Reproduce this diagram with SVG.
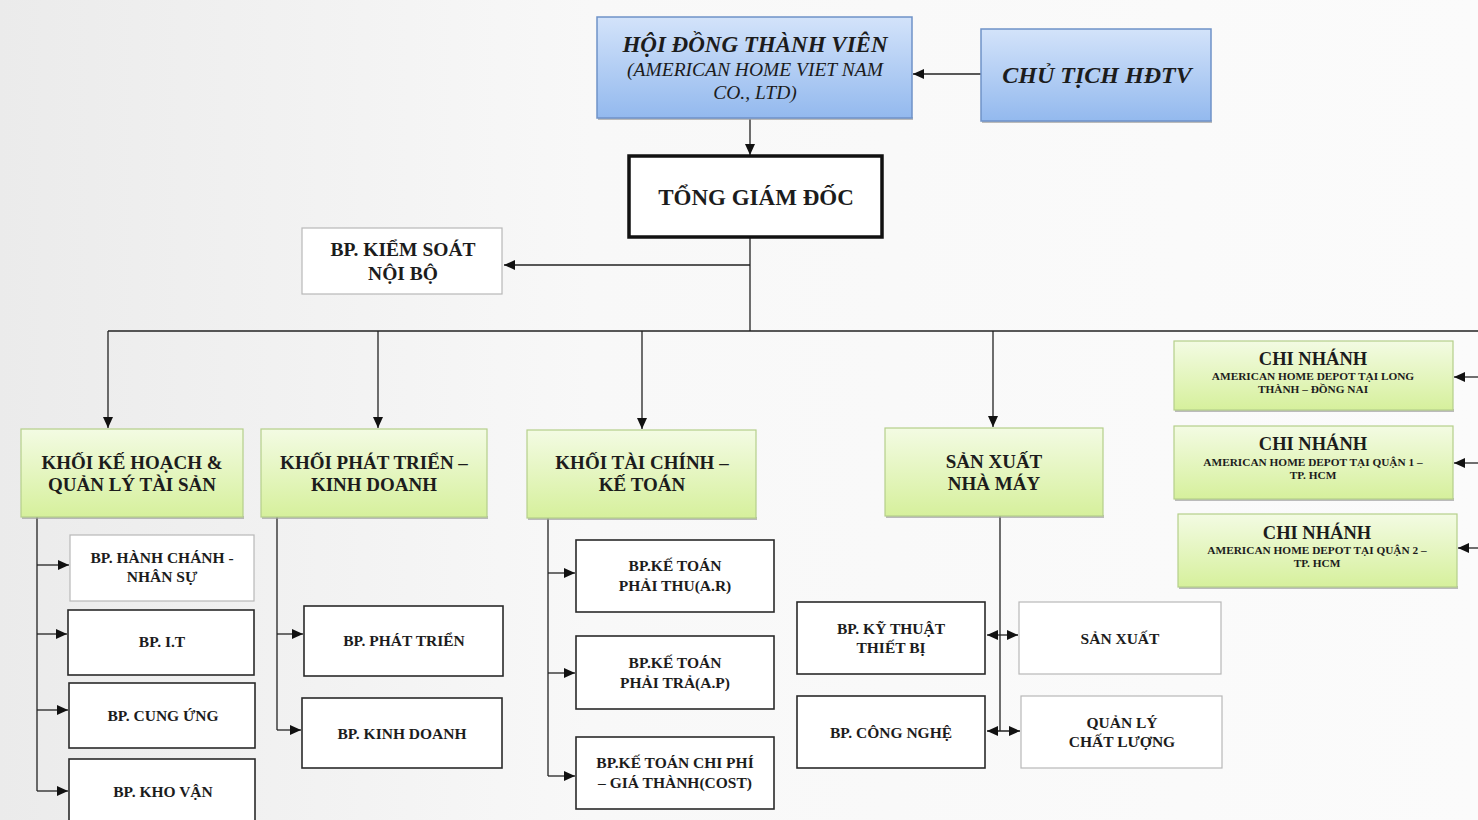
<svg xmlns="http://www.w3.org/2000/svg" width="1478" height="820" viewBox="0 0 1478 820">
<style>
.t{font-family:"Liberation Serif","Times New Roman",serif;font-weight:bold;fill:#1c1c1c;text-anchor:middle}
.it{font-style:italic}
.reg{font-weight:normal}
.c{stroke:#222;stroke-width:1.3;fill:none}
.dark{fill:#fff;stroke:#2a2a2a;stroke-width:1.6}
.light{fill:#fff;stroke:#b8b8b8;stroke-width:1.2}
.green{fill:url(#gg);stroke:#b5cf8a;stroke-width:1.2}
.blue{fill:url(#bg);stroke:#6f92c8;stroke-width:1.5}
.sh{fill:#a0a0a0;opacity:0.7}
</style>
<defs>
<linearGradient id="bgr" x1="0" y1="0" x2="1" y2="0">
<stop offset="0" stop-color="#ebebeb"/>
<stop offset="0.4" stop-color="#f8f8f8"/>
<stop offset="1" stop-color="#fbfbfb"/>
</linearGradient>
<linearGradient id="gg" x1="0" y1="0" x2="0" y2="1">
<stop offset="0" stop-color="#f3fbe3"/>
<stop offset="1" stop-color="#d6f09c"/>
</linearGradient>
<linearGradient id="bg" x1="0" y1="0" x2="0" y2="1">
<stop offset="0" stop-color="#d3e3fa"/>
<stop offset="1" stop-color="#93b9ee"/>
</linearGradient>
<marker id="arr" markerUnits="userSpaceOnUse" markerWidth="11" markerHeight="10" refX="11" refY="5" orient="auto-start-reverse">
<path d="M0,0 L11,5 L0,10 z" fill="#111"/>
</marker>
</defs>
<rect x="0" y="0" width="1478" height="820" fill="url(#bgr)"/>

<g id="connectors">
<line class="c" x1="981" y1="74" x2="913" y2="74" marker-end="url(#arr)"/>
<line class="c" x1="750" y1="119" x2="750" y2="155" marker-end="url(#arr)"/>
<line class="c" x1="750" y1="238" x2="750" y2="331"/>
<line class="c" x1="750" y1="265" x2="504" y2="265" marker-end="url(#arr)"/>
<line class="c" x1="108" y1="331" x2="1478" y2="331"/>
<line class="c" x1="108" y1="331" x2="108" y2="428" marker-end="url(#arr)"/>
<line class="c" x1="378" y1="331" x2="378" y2="428" marker-end="url(#arr)"/>
<line class="c" x1="642" y1="331" x2="642" y2="429" marker-end="url(#arr)"/>
<line class="c" x1="993" y1="331" x2="993" y2="427" marker-end="url(#arr)"/>
<line class="c" x1="1478" y1="377" x2="1454" y2="377" marker-end="url(#arr)"/>
<line class="c" x1="1478" y1="463" x2="1454" y2="463" marker-end="url(#arr)"/>
<line class="c" x1="1478" y1="548" x2="1458" y2="548" marker-end="url(#arr)"/>
<line class="c" x1="37" y1="517" x2="37" y2="791"/>
<line class="c" x1="37" y1="565" x2="69" y2="565" marker-end="url(#arr)"/>
<line class="c" x1="37" y1="634" x2="67" y2="634" marker-end="url(#arr)"/>
<line class="c" x1="37" y1="710" x2="68" y2="710" marker-end="url(#arr)"/>
<line class="c" x1="37" y1="791" x2="68" y2="791" marker-end="url(#arr)"/>
<line class="c" x1="277" y1="517" x2="277" y2="730"/>
<line class="c" x1="277" y1="634" x2="303" y2="634" marker-end="url(#arr)"/>
<line class="c" x1="277" y1="730" x2="301" y2="730" marker-end="url(#arr)"/>
<line class="c" x1="548" y1="518" x2="548" y2="776"/>
<line class="c" x1="548" y1="573" x2="575" y2="573" marker-end="url(#arr)"/>
<line class="c" x1="548" y1="673" x2="575" y2="673" marker-end="url(#arr)"/>
<line class="c" x1="548" y1="776" x2="575" y2="776" marker-end="url(#arr)"/>
<line class="c" x1="1000" y1="516" x2="1000" y2="731"/>
<line class="c" x1="987" y1="635" x2="1018" y2="635" marker-start="url(#arr)" marker-end="url(#arr)"/>
<line class="c" x1="987" y1="731" x2="1020" y2="731" marker-start="url(#arr)" marker-end="url(#arr)"/>
</g>

<g id="hdtv">
<rect class="sh" x="598" y="117" width="315" height="3"/>
<rect class="blue" x="597" y="17" width="315" height="101"/>
<text class="t it" x="755" y="52" font-size="23">HỘI ĐỒNG THÀNH VIÊN</text>
<text class="t it reg" x="755" y="76" font-size="19.5">(AMERICAN HOME VIET NAM</text>
<text class="t it reg" x="755" y="99" font-size="19.5">CO., LTD)</text>
</g>
<g id="chutich">
<rect class="sh" x="982" y="120" width="230" height="3"/>
<rect class="blue" x="981" y="29" width="230" height="92"/>
<text class="t it" x="1097" y="83" font-size="24">CHỦ TỊCH HĐTV</text>
</g>
<g id="tgd">
<rect x="629" y="156" width="253" height="81" fill="#fff" stroke="#111" stroke-width="3.5"/>
<text class="t" x="756" y="205" font-size="23">TỔNG GIÁM ĐỐC</text>
</g>
<g id="kiemsoat">
<rect class="light" x="302" y="228" width="200" height="66"/>
<text class="t" x="403" y="256" font-size="19.5">BP. KIỂM SOÁT</text>
<text class="t" x="403" y="280" font-size="19.5">NỘI BỘ</text>
</g>

<g id="khoi-kehoach">
<rect class="sh" x="22" y="516" width="222" height="3"/>
<rect class="green" x="21" y="429" width="222" height="88"/>
<text class="t" x="132" y="469" font-size="19">KHỐI KẾ HOẠCH &amp;</text>
<text class="t" x="132" y="491" font-size="19">QUẢN LÝ TÀI SẢN</text>
</g>
<g id="khoi-phattrien">
<rect class="sh" x="262" y="516" width="226" height="3"/>
<rect class="green" x="261" y="429" width="226" height="88"/>
<text class="t" x="374" y="469" font-size="19">KHỐI PHÁT TRIỂN –</text>
<text class="t" x="374" y="491" font-size="19">KINH DOANH</text>
</g>
<g id="khoi-taichinh">
<rect class="sh" x="528" y="517" width="229" height="3"/>
<rect class="green" x="527" y="430" width="229" height="88"/>
<text class="t" x="642" y="469" font-size="19">KHỐI TÀI CHÍNH –</text>
<text class="t" x="642" y="491" font-size="19">KẾ TOÁN</text>
</g>
<g id="sanxuat-nhamay">
<rect class="sh" x="886" y="515" width="218" height="3"/>
<rect class="green" x="885" y="428" width="218" height="88"/>
<text class="t" x="994" y="468" font-size="19">SẢN XUẤT</text>
<text class="t" x="994" y="490" font-size="19">NHÀ MÁY</text>
</g>

<g id="cn-longthanh">
<rect class="sh" x="1175" y="409" width="279" height="3"/>
<rect class="green" x="1174" y="341" width="279" height="69"/>
<text class="t" x="1313" y="365" font-size="18.5">CHI NHÁNH</text>
<text class="t" x="1313" y="380" font-size="11.3">AMERICAN HOME DEPOT TẠI LONG</text>
<text class="t" x="1313" y="393" font-size="11.3">THÀNH – ĐỒNG NAI</text>
</g>
<g id="cn-quan1">
<rect class="sh" x="1175" y="498" width="279" height="3"/>
<rect class="green" x="1174" y="426" width="279" height="73"/>
<text class="t" x="1313" y="450" font-size="18.5">CHI NHÁNH</text>
<text class="t" x="1313" y="466" font-size="11.3">AMERICAN HOME DEPOT TẠI QUẬN 1 –</text>
<text class="t" x="1313" y="479" font-size="11.3">TP. HCM</text>
</g>
<g id="cn-quan2">
<rect class="sh" x="1179" y="586" width="279" height="3"/>
<rect class="green" x="1178" y="514" width="279" height="73"/>
<text class="t" x="1317" y="539" font-size="18.5">CHI NHÁNH</text>
<text class="t" x="1317" y="554" font-size="11.3">AMERICAN HOME DEPOT TẠI QUẬN 2 –</text>
<text class="t" x="1317" y="567" font-size="11.3">TP. HCM</text>
</g>

<g id="bp-hanhchanh">
<rect class="light" x="70" y="535" width="184" height="66"/>
<text class="t" x="162" y="563" font-size="15.5">BP. HÀNH CHÁNH -</text>
<text class="t" x="162" y="582" font-size="15.5">NHÂN SỰ</text>
</g>
<g id="bp-it">
<rect class="dark" x="68" y="610" width="186" height="65"/>
<text class="t" x="162" y="647" font-size="15.5">BP. I.T</text>
</g>
<g id="bp-cungung">
<rect class="dark" x="69" y="683" width="186" height="65"/>
<text class="t" x="163" y="721" font-size="15.5">BP. CUNG ỨNG</text>
</g>
<g id="bp-khovan">
<rect class="dark" x="69" y="759" width="186" height="70"/>
<text class="t" x="163" y="797" font-size="15.5">BP. KHO VẬN</text>
</g>

<g id="bp-phattrien">
<rect class="dark" x="304" y="606" width="199" height="70"/>
<text class="t" x="404" y="646" font-size="15.5">BP. PHÁT TRIỂN</text>
</g>
<g id="bp-kinhdoanh">
<rect class="dark" x="302" y="698" width="200" height="70"/>
<text class="t" x="402" y="739" font-size="15.5">BP. KINH DOANH</text>
</g>

<g id="bp-phaithu">
<rect class="dark" x="576" y="540" width="198" height="72"/>
<text class="t" x="675" y="571" font-size="15.5">BP.KẾ TOÁN</text>
<text class="t" x="675" y="591" font-size="15.5">PHẢI THU(A.R)</text>
</g>
<g id="bp-phaitra">
<rect class="dark" x="576" y="636" width="198" height="73"/>
<text class="t" x="675" y="668" font-size="15.5">BP.KẾ TOÁN</text>
<text class="t" x="675" y="688" font-size="15.5">PHẢI TRẢ(A.P)</text>
</g>
<g id="bp-chiphi">
<rect class="dark" x="576" y="737" width="198" height="72"/>
<text class="t" x="675" y="768" font-size="15.5">BP.KẾ TOÁN CHI PHÍ</text>
<text class="t" x="675" y="788" font-size="15.5">– GIÁ THÀNH(COST)</text>
</g>

<g id="bp-kythuat">
<rect class="dark" x="797" y="602" width="188" height="72"/>
<text class="t" x="891" y="634" font-size="15.5">BP. KỸ THUẬT</text>
<text class="t" x="891" y="653" font-size="15.5">THIẾT BỊ</text>
</g>
<g id="bp-congnghe">
<rect class="dark" x="797" y="696" width="188" height="72"/>
<text class="t" x="891" y="738" font-size="15.5">BP. CÔNG NGHỆ</text>
</g>
<g id="sanxuat">
<rect class="light" x="1019" y="602" width="202" height="72"/>
<text class="t" x="1120" y="644" font-size="15.5">SẢN XUẤT</text>
</g>
<g id="quanly-chatluong">
<rect class="light" x="1021" y="696" width="201" height="72"/>
<text class="t" x="1122" y="728" font-size="15.5">QUẢN LÝ</text>
<text class="t" x="1122" y="747" font-size="15.5">CHẤT LƯỢNG</text>
</g>
</svg>
